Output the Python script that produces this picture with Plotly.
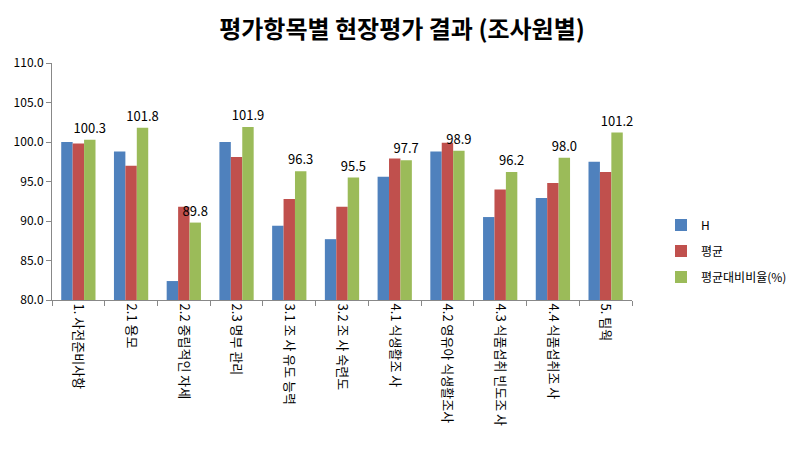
import plotly.graph_objects as go

categories = ["1. 사전준비사항", "2.1 용모", "2.2 중립적인 자세", "2.3 명부 관리",
              "3.1 조 사 유도 능력", "3.2 조 사 숙련도", "4.1 식생활조 사",
              "4.2 영유아 식생활조사", "4.3 식품섭취 빈도조 사", "4.4 식품섭취조 사", "5. 팀웍"]
h_values = [100.0, 98.8, 82.4, 100.0, 89.4, 87.7, 95.6, 98.8, 90.5, 92.9, 97.5]
avg_values = [99.8, 97.0, 91.8, 98.1, 92.8, 91.8, 97.9, 99.9, 94.0, 94.8, 96.2]
ratio_values = [100.3, 101.8, 89.8, 101.9, 96.3, 95.5, 97.7, 98.9, 96.2, 98.0, 101.2]
series_names = ["H", "평균", "평균대비비율(%)"]
colors = ["#4F81BD", "#C0504D", "#9BBB59"]
y_ticks = [80, 85, 90, 95, 100, 105, 110]

font = "Noto Sans CJK KR, Noto Sans, sans-serif"

fig = go.Figure()
for i, (name, vals) in enumerate(zip(series_names, [h_values, avg_values, ratio_values])):
    kw = {}
    if i == 2:
        kw = dict(text=[f"{v:.1f}" for v in vals], textposition="outside",
                  constraintext="none",
                  textfont=dict(size=13, color="#000000", family=font), cliponaxis=False)
    fig.add_trace(go.Bar(x=categories, y=[v - 80 for v in vals], base=80, name=name,
                         marker=dict(color=colors[i], line=dict(width=0)),
                         legendgroup=f"g{i}", **kw))

fig.update_layout(
    width=804, height=450,
    paper_bgcolor="white", plot_bgcolor="white",
    margin=dict(l=52, r=144, t=63, b=150),
    title=dict(text="<b>평가항목별 현장평가 결과 (조사원별)</b>", x=0.5, xanchor="center",
               y=0.935, yanchor="middle", font=dict(size=24, family=font, color="#000000")),
    barmode="group", bargap=0.35, bargroupgap=0,
    font=dict(family=font, size=12, color="#000000"),
    showlegend=True,
    legend=dict(x=1.05, y=0.207, xanchor="left", yanchor="middle", tracegroupgap=7,
                font=dict(size=12, family=font), bgcolor="rgba(0,0,0,0)"),
    xaxis=dict(tickangle=90, showline=True, linecolor="#888888", linewidth=1,
               ticks="outside", tickson="boundaries", ticklen=5, tickcolor="#888888",
               tickfont=dict(size=13, family=font), showgrid=False),
    yaxis=dict(range=[80, 110], tickvals=y_ticks, tickformat=".1f", showline=True,
               linecolor="#888888", linewidth=1, ticks="outside", ticklen=5,
               tickcolor="#888888", showgrid=False, zeroline=False,
               tickfont=dict(size=12, family=font)),
)
fig.write_html("out.html")
